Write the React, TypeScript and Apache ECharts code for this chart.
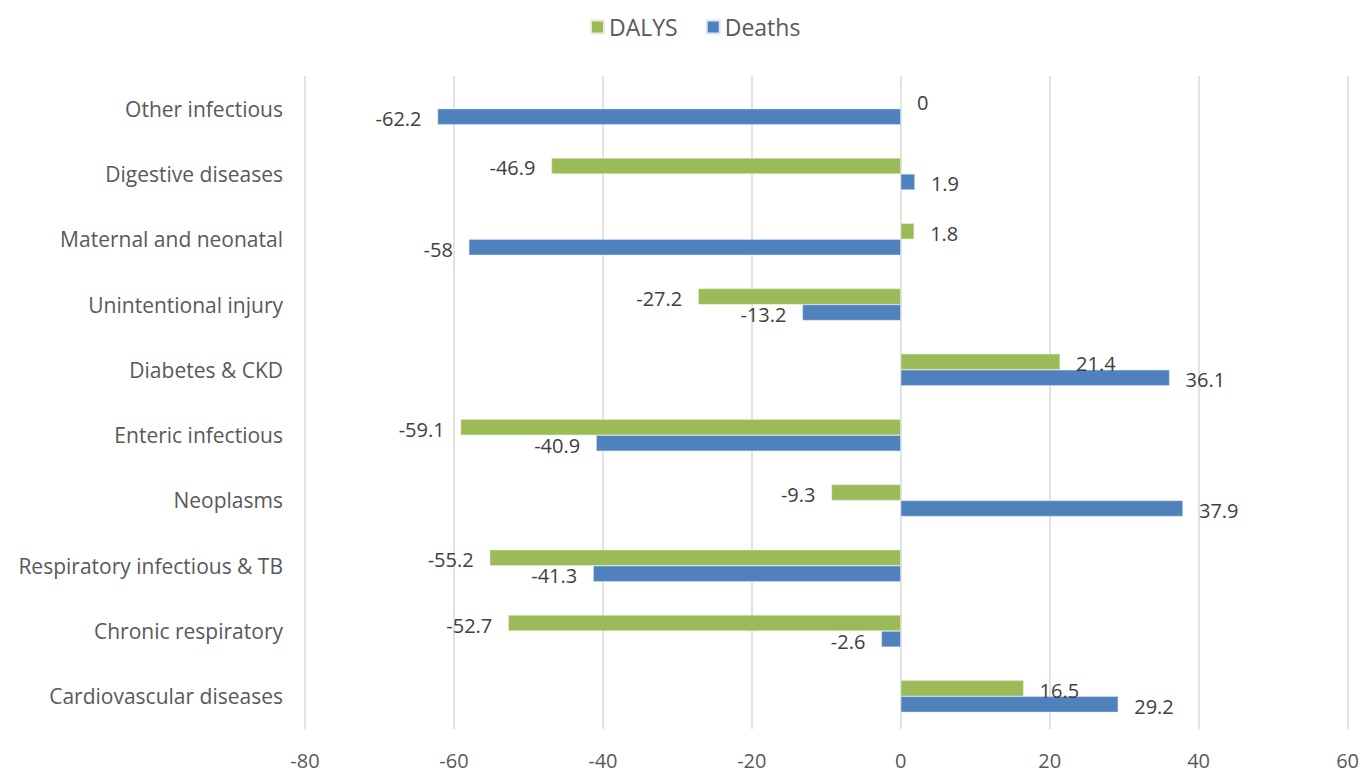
import React, { useEffect, useRef } from "react";
import * as echarts from "echarts";

const categories = [
  "Cardiovascular diseases",
  "Chronic respiratory",
  "Respiratory infectious & TB",
  "Neoplasms",
  "Enteric infectious",
  "Diabetes & CKD",
  "Unintentional injury",
  "Maternal and neonatal",
  "Digestive diseases",
  "Other infectious",
];
const dalys = [16.5, -52.7, -55.2, -9.3, -59.1, 21.4, -27.2, 1.8, -46.9, 0];
const deaths = [29.2, -2.6, -41.3, 37.9, -40.9, 36.1, -13.2, -58, 1.9, -62.2];
const xMin = -80;
const xMax = 60;
const xInterval = 20;

const FONT = "'Open Sans', Lato, sans-serif";

export default function App() {
  const ref = useRef<HTMLDivElement>(null);
  useEffect(() => {
    if (!ref.current) return;
    const chart = echarts.init(ref.current, undefined, { renderer: "svg" });
    const label = {
      show: true,
      position: "outside",
      distance: 16,
      offset: [0, 2],
      color: "#404040",
      fontSize: 20,
      fontFamily: FONT,
    };
    chart.setOption({
      animation: false,
      legend: {
        top: 7,
        left: 585,
        itemWidth: 13,
        itemHeight: 13,
        itemGap: 28,
        icon: "rect",
        textStyle: { color: "#595959", fontSize: 23, fontFamily: FONT, lineHeight: 30 },
        data: ["DALYS", "Deaths"],
      },
      grid: { left: 305, right: 14, top: 76, bottom: 43, containLabel: false },
      xAxis: {
        type: "value",
        min: xMin,
        max: xMax,
        interval: xInterval,
        axisLine: { show: false },
        axisTick: { show: false },
        splitLine: { show: true, lineStyle: { color: "#d9d9d9", width: 1.5 } },
        axisLabel: { color: "#595959", fontSize: 20, fontFamily: FONT, margin: 21 },
      },
      yAxis: {
        type: "category",
        data: categories,
        axisLine: { show: false },
        axisTick: { show: false },
        splitLine: { show: false },
        axisLabel: { color: "#595959", fontSize: 21, fontFamily: FONT, margin: 22 },
      },
      series: [
        {
          name: "DALYS",
          type: "bar",
          data: dalys,
          barWidth: 16,
          barGap: "0%",
          itemStyle: { color: "#9bbb59", borderColor: "#e6eed5", borderWidth: 0.5 },
          label,
        },
        {
          name: "Deaths",
          type: "bar",
          data: deaths,
          barWidth: 16,
          barGap: "0%",
          itemStyle: { color: "#4f81bd", borderColor: "#dce6f2", borderWidth: 0.5 },
          label,
        },
      ],
    });
    return () => chart.dispose();
  }, []);
  return <div ref={ref} style={{ width: 1362, height: 772, position: "absolute", left: 0, top: 0 }} />;
}
